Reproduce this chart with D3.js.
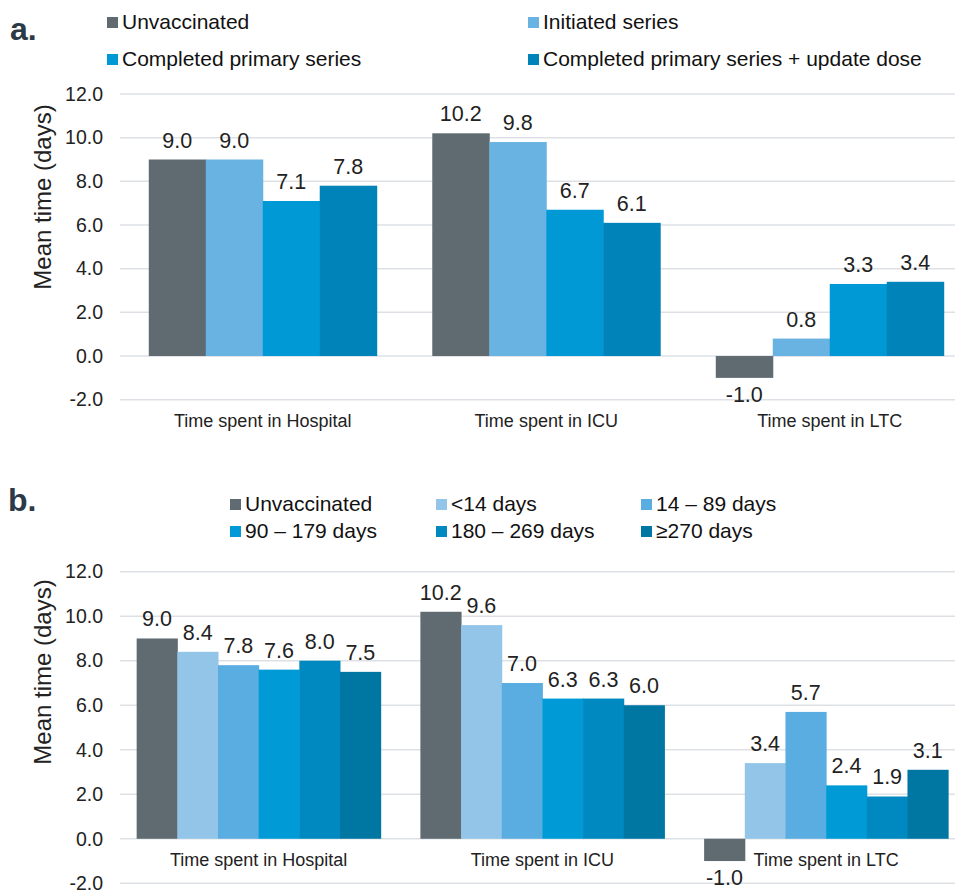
<!DOCTYPE html>
<html>
<head>
<meta charset="utf-8">
<script src="https://cdn.jsdelivr.net/npm/d3@7"></script>
<style>
  body { margin: 0; background: #fff; }
  svg { font-family: "Liberation Sans", Arial, sans-serif; }
</style>
</head>
<body>
<svg id="chart" width="964" height="893"></svg>
<script>
// categories shared by both panels
var categories = ["Time spent in Hospital", "Time spent in ICU", "Time spent in LTC"];
var yTicks = [-2, 0, 2, 4, 6, 8, 10, 12];

// panel a: vaccination status
var seriesA = ["Unvaccinated", "Initiated series", "Completed primary series", "Completed primary series + update dose"];
var colorsA = ["#5f6a71", "#68b3e2", "#0099d5", "#0083b8"];
var unvaccinatedA = [9.0, 10.2, -1.0];
var initiatedA = [9.0, 9.8, 0.8];
var completedA = [7.1, 6.7, 3.3];
var updateDoseA = [7.8, 6.1, 3.4];

// panel b: time since last dose
var seriesB = ["Unvaccinated", "<14 days", "14 \u2013 89 days", "90 \u2013 179 days", "180 \u2013 269 days", "\u2265270 days"];
var colorsB = ["#5f6a71", "#93c5e9", "#5aade1", "#009bd6", "#0089c0", "#0077a3"];
var unvaccinatedB = [9.0, 10.2, -1.0];
var lt14B = [8.4, 9.6, 3.4];
var d14to89B = [7.8, 7.0, 5.7];
var d90to179B = [7.6, 6.3, 2.4];
var d180to269B = [8.0, 6.3, 1.9];
var ge270B = [7.5, 6.0, 3.1];

var svg = d3.select("#chart");

// excel style numbers: one decimal, plain hyphen for minus
function fmt(v) { return v.toFixed(1); }

function drawPanel(cfg) {
    var g = svg.append("g");

    var y = d3.scaleLinear().domain([-2, 12]).range([cfg.yBottom, cfg.yTop]);

    var x0 = d3.scaleBand()
        .domain(categories)
        .range(cfg.xRange)
        .paddingInner(cfg.pad)
        .paddingOuter(cfg.pad / 2);

    var x1 = d3.scaleBand()
        .domain(cfg.series)
        .range([0, x0.bandwidth()]);

    // gridlines
    g.selectAll(".grid")
        .data(yTicks)
        .enter()
        .append("line")
        .attr("x1", 120)
        .attr("x2", 955)
        .attr("y1", function (d) { return y(d); })
        .attr("y2", function (d) { return y(d); })
        .attr("stroke", "#dde1e6")
        .attr("stroke-width", 1.5);

    // y axis labels
    var yAxis = d3.axisLeft(y).tickValues(yTicks).tickSize(0).tickPadding(0)
        .tickFormat(fmt);
    var ya = g.append("g")
        .attr("transform", "translate(103,0)")
        .call(yAxis);
    ya.select(".domain").remove();
    ya.selectAll("text")
        .attr("font-size", 19.5)
        .attr("fill", "#222")
        .style("font-family", "Liberation Sans, Arial, sans-serif");

    g.append("text")
        .attr("transform", "translate(51," + cfg.titleY + ") rotate(-90)")
        .attr("text-anchor", "middle")
        .attr("font-size", 24)
        .attr("fill", "#222")
        .text("Mean time (days)");

    // bars
    var rows = categories.map(function (c, i) {
        return {
            cat: c,
            vals: cfg.series.map(function (s, j) { return { key: s, value: cfg.values[j][i], color: cfg.colors[j] }; })
        };
    });

    var groups = g.selectAll(".grp")
        .data(rows)
        .enter()
        .append("g")
        .attr("transform", function (d) { return "translate(" + x0(d.cat) + ",0)"; });

    groups.selectAll("rect")
        .data(function (d) { return d.vals; })
        .enter()
        .append("rect")
        .attr("x", function (d) { return x1(d.key); })
        .attr("width", x1.bandwidth() + 0.5)
        .attr("y", function (d) { return y(Math.max(0, d.value)); })
        .attr("height", function (d) { return Math.abs(y(d.value) - y(0)); })
        .attr("fill", function (d) { return d.color; });

    groups.selectAll(".lbl")
        .data(function (d) { return d.vals; })
        .enter()
        .append("text")
        .attr("x", function (d) { return x1(d.key) + x1.bandwidth() / 2; })
        .attr("y", function (d) { return d.value >= 0 ? y(d.value) - 12 : y(d.value) + 24; })
        .attr("text-anchor", "middle")
        .attr("font-size", 21.5)
        .attr("fill", "#222")
        .text(function (d) { return fmt(d.value); });

    // category labels
    g.selectAll(".cat")
        .data(categories)
        .enter()
        .append("text")
        .attr("x", function (d) { return x0(d) + x0.bandwidth() / 2; })
        .attr("y", cfg.catY)
        .attr("text-anchor", "middle")
        .attr("font-size", 18)
        .attr("fill", "#222")
        .text(function (d) { return d; });

    // panel letter
    svg.append("text")
        .attr("x", cfg.letterX)
        .attr("y", cfg.letterY)
        .attr("font-size", 32)
        .attr("font-weight", "bold")
        .attr("fill", "#2b3a46")
        .text(cfg.letter + ".");

    // legend
    var leg = svg.append("g").selectAll("g")
        .data(cfg.series)
        .enter()
        .append("g")
        .attr("transform", function (d, i) {
            return "translate(" + cfg.legendX[i % cfg.legendCols] + "," + cfg.legendY[Math.floor(i / cfg.legendCols)] + ")";
        });
    leg.append("rect")
        .attr("x", 0)
        .attr("y", -11)
        .attr("width", 11)
        .attr("height", 11)
        .attr("fill", function (d, i) { return cfg.colors[i]; });
    leg.append("text")
        .attr("x", 15)
        .attr("y", 1)
        .attr("font-size", 21)
        .attr("fill", "#111")
        .text(function (d) { return d; });
}

drawPanel({
    letter: "a", letterX: 10, letterY: 40,
    series: seriesA, colors: colorsA,
    values: [unvaccinatedA, initiatedA, completedA, updateDoseA],
    yTop: 94, yBottom: 399.7,
    xRange: [121, 971.5], pad: 0.196,
    titleY: 197, catY: 427,
    legendCols: 2, legendX: [107, 528], legendY: [28, 65]
});

drawPanel({
    letter: "b", letterX: 8, letterY: 511,
    series: seriesB, colors: colorsB,
    values: [unvaccinatedB, lt14B, d14to89B, d90to179B, d180to269B, ge270B],
    yTop: 571.7, yBottom: 883.3,
    xRange: [116.8, 968], pad: 0.14,
    titleY: 672, catY: 866,
    legendCols: 3, legendX: [230, 436, 641], legendY: [510, 537]
});
</script>
</body>
</html>
